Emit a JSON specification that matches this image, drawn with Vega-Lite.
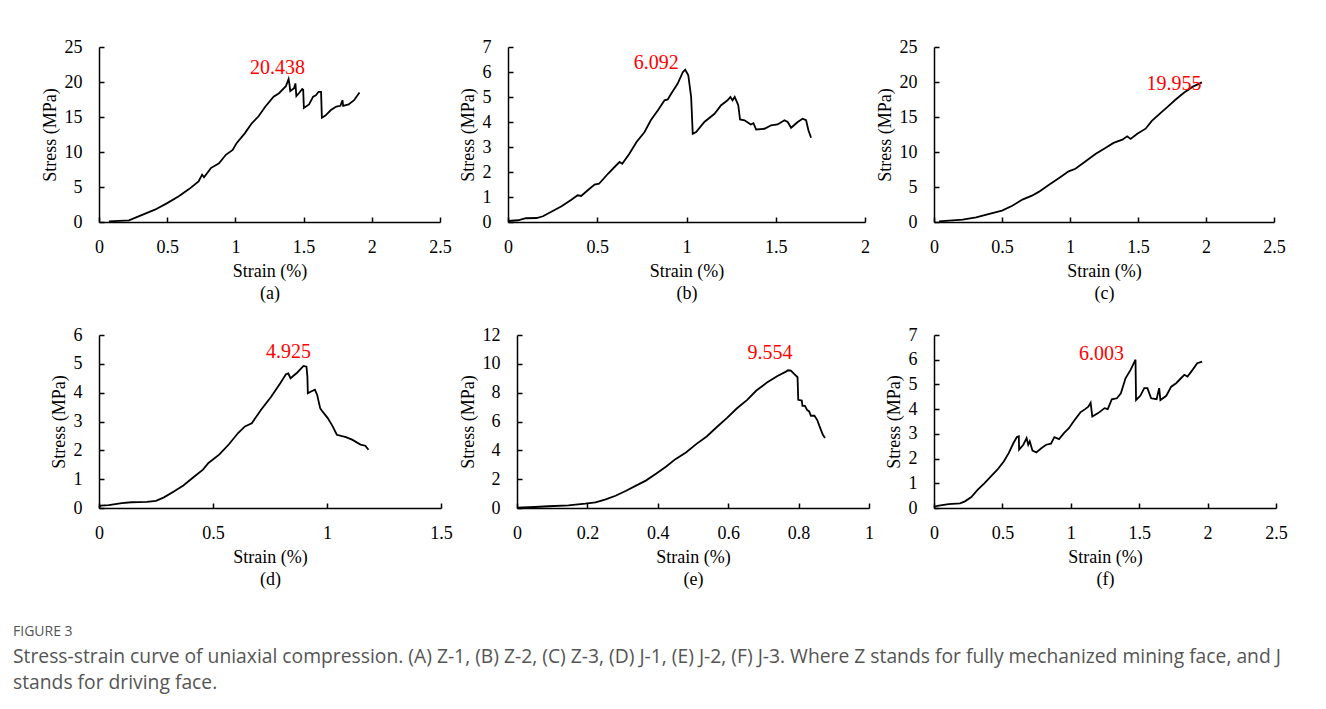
{
"$schema":"https://vega.github.io/schema/vega-lite/v6.json",
"background":"white",
"padding":{"left":13,"top":38,"right":5,"bottom":5},
"config":{"view":{"stroke":null},"font":"Liberation Serif",
"axis":{"grid":false,"domainColor":"#000","domainWidth":1.5,"tickColor":"#000","tickWidth":1.5,"tickSize":-5,"labelFont":"Liberation Serif","labelFontSize":18,"labelColor":"#000","titleFont":"Liberation Serif","titleFontSize":18,"titleFontWeight":"normal","titleColor":"#000","labelFlush":false,"labelOverlap":false,"format":"~g"},
"axisX":{"labelPadding":21,"titlePadding":6,"titleLineHeight":22},
"axisY":{"labelPadding":22,"titlePadding":5}},
"title":{"text":"FIGURE 3","orient":"bottom","anchor":"start","dx":-28,"offset":37,"font":"Open Sans","fontSize":14,"fontWeight":"normal","color":"#555","subtitle":["Stress-strain curve of uniaxial compression. (A) Z-1, (B) Z-2, (C) Z-3, (D) J-1, (E) J-2, (F) J-3. Where Z stands for fully mechanized mining face, and J","stands for driving face."],"subtitleFont":"Open Sans","subtitleFontSize":19.3,"subtitleLineHeight":26,"subtitleColor":"#555","subtitlePadding":9},
"datasets":{
"a":[{"strain":0.073,"stress":0.1},{"strain":0.22,"stress":0.24},{"strain":0.29,"stress":0.8},{"strain":0.41,"stress":1.76},{"strain":0.5,"stress":2.7},{"strain":0.585,"stress":3.67},{"strain":0.66,"stress":4.7},{"strain":0.73,"stress":5.8},{"strain":0.756,"stress":6.76},{"strain":0.77,"stress":6.4},{"strain":0.82,"stress":7.7},{"strain":0.88,"stress":8.4},{"strain":0.93,"stress":9.6},{"strain":0.98,"stress":10.3},{"strain":1.01,"stress":11.3},{"strain":1.07,"stress":12.7},{"strain":1.12,"stress":14.1},{"strain":1.17,"stress":15.1},{"strain":1.22,"stress":16.5},{"strain":1.28,"stress":17.9},{"strain":1.32,"stress":18.4},{"strain":1.37,"stress":19.4},{"strain":1.39,"stress":20.438},{"strain":1.397,"stress":19.6},{"strain":1.402,"stress":18.7},{"strain":1.43,"stress":19.1},{"strain":1.44,"stress":19.8},{"strain":1.447,"stress":18.0},{"strain":1.47,"stress":18.5},{"strain":1.49,"stress":19.0},{"strain":1.497,"stress":18.9},{"strain":1.502,"stress":16.3},{"strain":1.54,"stress":16.8},{"strain":1.57,"stress":17.9},{"strain":1.59,"stress":18.1},{"strain":1.61,"stress":18.6},{"strain":1.628,"stress":18.6},{"strain":1.634,"stress":14.9},{"strain":1.66,"stress":15.2},{"strain":1.7,"stress":16.0},{"strain":1.74,"stress":16.5},{"strain":1.77,"stress":16.6},{"strain":1.785,"stress":17.4},{"strain":1.79,"stress":16.6},{"strain":1.83,"stress":16.8},{"strain":1.87,"stress":17.4},{"strain":1.91,"stress":18.5}],
"b":[{"strain":0,"stress":0.04},{"strain":0.056,"stress":0.07},{"strain":0.1,"stress":0.15},{"strain":0.16,"stress":0.16},{"strain":0.196,"stress":0.23},{"strain":0.24,"stress":0.4},{"strain":0.3,"stress":0.63},{"strain":0.355,"stress":0.89},{"strain":0.39,"stress":1.07},{"strain":0.41,"stress":1.04},{"strain":0.45,"stress":1.29},{"strain":0.485,"stress":1.5},{"strain":0.51,"stress":1.53},{"strain":0.56,"stress":1.93},{"strain":0.597,"stress":2.2},{"strain":0.625,"stress":2.4},{"strain":0.64,"stress":2.33},{"strain":0.68,"stress":2.73},{"strain":0.72,"stress":3.2},{"strain":0.765,"stress":3.6},{"strain":0.8,"stress":4.07},{"strain":0.84,"stress":4.47},{"strain":0.877,"stress":4.87},{"strain":0.895,"stress":4.9},{"strain":0.914,"stress":5.13},{"strain":0.95,"stress":5.53},{"strain":0.98,"stress":6.0},{"strain":0.993,"stress":6.092},{"strain":1.01,"stress":5.87},{"strain":1.026,"stress":5.0},{"strain":1.035,"stress":3.53},{"strain":1.054,"stress":3.6},{"strain":1.1,"stress":4.0},{"strain":1.157,"stress":4.33},{"strain":1.194,"stress":4.67},{"strain":1.23,"stress":4.87},{"strain":1.246,"stress":5.0},{"strain":1.258,"stress":4.87},{"strain":1.27,"stress":5.0},{"strain":1.29,"stress":4.67},{"strain":1.3,"stress":4.1},{"strain":1.325,"stress":4.07},{"strain":1.36,"stress":3.9},{"strain":1.375,"stress":3.95},{"strain":1.39,"stress":3.7},{"strain":1.437,"stress":3.73},{"strain":1.474,"stress":3.87},{"strain":1.51,"stress":3.9},{"strain":1.549,"stress":4.07},{"strain":1.567,"stress":4.0},{"strain":1.586,"stress":3.77},{"strain":1.623,"stress":4.0},{"strain":1.65,"stress":4.13},{"strain":1.67,"stress":4.07},{"strain":1.683,"stress":3.67},{"strain":1.698,"stress":3.37}],
"c":[{"strain":0.037,"stress":0.1},{"strain":0.21,"stress":0.33},{"strain":0.31,"stress":0.67},{"strain":0.4,"stress":1.14},{"strain":0.5,"stress":1.62},{"strain":0.576,"stress":2.33},{"strain":0.65,"stress":3.2},{"strain":0.72,"stress":3.76},{"strain":0.77,"stress":4.3},{"strain":0.846,"stress":5.33},{"strain":0.92,"stress":6.3},{"strain":0.99,"stress":7.24},{"strain":1.04,"stress":7.6},{"strain":1.115,"stress":8.67},{"strain":1.19,"stress":9.76},{"strain":1.26,"stress":10.57},{"strain":1.32,"stress":11.3},{"strain":1.385,"stress":11.76},{"strain":1.42,"stress":12.24},{"strain":1.446,"stress":11.86},{"strain":1.495,"stress":12.6},{"strain":1.556,"stress":13.33},{"strain":1.6,"stress":14.4},{"strain":1.667,"stress":15.6},{"strain":1.715,"stress":16.4},{"strain":1.777,"stress":17.5},{"strain":1.84,"stress":18.5},{"strain":1.9,"stress":19.3},{"strain":1.97,"stress":19.955}],
"d":[{"strain":0,"stress":0.02},{"strain":0.007,"stress":0.08},{"strain":0.043,"stress":0.1},{"strain":0.1,"stress":0.17},{"strain":0.142,"stress":0.2},{"strain":0.21,"stress":0.21},{"strain":0.25,"stress":0.25},{"strain":0.285,"stress":0.37},{"strain":0.33,"stress":0.58},{"strain":0.37,"stress":0.78},{"strain":0.41,"stress":1.04},{"strain":0.456,"stress":1.33},{"strain":0.48,"stress":1.56},{"strain":0.527,"stress":1.85},{"strain":0.57,"stress":2.21},{"strain":0.61,"stress":2.6},{"strain":0.64,"stress":2.83},{"strain":0.67,"stress":2.94},{"strain":0.71,"stress":3.4},{"strain":0.755,"stress":3.86},{"strain":0.795,"stress":4.33},{"strain":0.82,"stress":4.64},{"strain":0.83,"stress":4.67},{"strain":0.84,"stress":4.5},{"strain":0.87,"stress":4.7},{"strain":0.897,"stress":4.925},{"strain":0.91,"stress":4.9},{"strain":0.914,"stress":4.56},{"strain":0.916,"stress":3.98},{"strain":0.93,"stress":4.04},{"strain":0.947,"stress":4.1},{"strain":0.957,"stress":3.92},{"strain":0.97,"stress":3.46},{"strain":0.98,"stress":3.35},{"strain":1.004,"stress":3.11},{"strain":1.025,"stress":2.83},{"strain":1.043,"stress":2.54},{"strain":1.083,"stress":2.46},{"strain":1.11,"stress":2.37},{"strain":1.147,"stress":2.2},{"strain":1.168,"stress":2.16},{"strain":1.182,"stress":2.02}],
"e":[{"strain":0,"stress":0.02},{"strain":0.05,"stress":0.07},{"strain":0.089,"stress":0.12},{"strain":0.146,"stress":0.18},{"strain":0.194,"stress":0.3},{"strain":0.223,"stress":0.39},{"strain":0.25,"stress":0.58},{"strain":0.28,"stress":0.85},{"strain":0.31,"stress":1.2},{"strain":0.338,"stress":1.55},{"strain":0.366,"stress":1.9},{"strain":0.395,"stress":2.38},{"strain":0.424,"stress":2.88},{"strain":0.45,"stress":3.39},{"strain":0.48,"stress":3.85},{"strain":0.51,"stress":4.45},{"strain":0.539,"stress":4.96},{"strain":0.567,"stress":5.6},{"strain":0.596,"stress":6.23},{"strain":0.625,"stress":6.92},{"strain":0.654,"stress":7.5},{"strain":0.68,"stress":8.15},{"strain":0.71,"stress":8.7},{"strain":0.74,"stress":9.16},{"strain":0.764,"stress":9.46},{"strain":0.77,"stress":9.554},{"strain":0.778,"stress":9.53},{"strain":0.788,"stress":9.28},{"strain":0.797,"stress":9.07},{"strain":0.799,"stress":7.5},{"strain":0.809,"stress":7.45},{"strain":0.811,"stress":7.08},{"strain":0.818,"stress":7.08},{"strain":0.824,"stress":6.8},{"strain":0.83,"stress":6.7},{"strain":0.835,"stress":6.4},{"strain":0.845,"stress":6.4},{"strain":0.853,"stress":6.1},{"strain":0.859,"stress":5.7},{"strain":0.869,"stress":5.08},{"strain":0.875,"stress":4.85}],
"f":[{"strain":0,"stress":0.03},{"strain":0.024,"stress":0.09},{"strain":0.107,"stress":0.16},{"strain":0.19,"stress":0.19},{"strain":0.226,"stress":0.27},{"strain":0.273,"stress":0.44},{"strain":0.32,"stress":0.74},{"strain":0.368,"stress":1.0},{"strain":0.416,"stress":1.28},{"strain":0.463,"stress":1.55},{"strain":0.51,"stress":1.88},{"strain":0.546,"stress":2.22},{"strain":0.58,"stress":2.62},{"strain":0.606,"stress":2.87},{"strain":0.62,"stress":2.9},{"strain":0.622,"stress":2.36},{"strain":0.653,"stress":2.56},{"strain":0.677,"stress":2.83},{"strain":0.689,"stress":2.56},{"strain":0.7,"stress":2.7},{"strain":0.72,"stress":2.32},{"strain":0.748,"stress":2.25},{"strain":0.784,"stress":2.42},{"strain":0.82,"stress":2.56},{"strain":0.855,"stress":2.6},{"strain":0.88,"stress":2.87},{"strain":0.914,"stress":2.79},{"strain":0.95,"stress":3.03},{"strain":0.986,"stress":3.23},{"strain":1.02,"stress":3.5},{"strain":1.07,"stress":3.87},{"strain":1.105,"stress":4.0},{"strain":1.128,"stress":4.1},{"strain":1.145,"stress":4.26},{"strain":1.157,"stress":3.7},{"strain":1.2,"stress":3.84},{"strain":1.247,"stress":4.04},{"strain":1.27,"stress":4.0},{"strain":1.3,"stress":4.4},{"strain":1.337,"stress":4.44},{"strain":1.366,"stress":4.64},{"strain":1.4,"stress":5.25},{"strain":1.437,"stress":5.59},{"strain":1.473,"stress":6.003},{"strain":1.477,"stress":4.37},{"strain":1.508,"stress":4.54},{"strain":1.537,"stress":4.85},{"strain":1.56,"stress":4.85},{"strain":1.587,"stress":4.44},{"strain":1.627,"stress":4.4},{"strain":1.646,"stress":4.85},{"strain":1.655,"stress":4.37},{"strain":1.698,"stress":4.54},{"strain":1.734,"stress":4.91},{"strain":1.77,"stress":5.05},{"strain":1.805,"stress":5.25},{"strain":1.83,"stress":5.39},{"strain":1.853,"stress":5.32},{"strain":1.89,"stress":5.59},{"strain":1.924,"stress":5.86},{"strain":1.96,"stress":5.92}],
"peaks":[{"panel":"a","strain":1.39,"stress":20.438},{"panel":"b","strain":0.993,"stress":6.092},{"panel":"c","strain":1.97,"stress":19.955},{"panel":"d","strain":0.897,"stress":4.925},{"panel":"e","strain":0.77,"stress":9.554},{"panel":"f","strain":1.473,"stress":6.003}]
},
"columns":3,
"align":"none",
"spacing":{"row":24,"column":6},
"concat":[
{"width":341,"height":175,
"encoding":{"x":{"field":"strain","type":"quantitative","scale":{"domain":[0,2.5]},"axis":{"values":[0,0.5,1,1.5,2,2.5],"title":["Strain (%)","(a)"]}},"y":{"field":"stress","type":"quantitative","scale":{"domain":[0,25]},"axis":{"values":[0,5,10,15,20,25],"title":"Stress (MPa)"}}},
"layer":[
{"data":{"name":"a"},"mark":{"type":"line","color":"#000","strokeWidth":1.8}},
{"data":{"name":"peaks"},"transform":[{"filter":"datum.panel === 'a'"}],"mark":{"type":"text","color":"#ff0000","font":"Liberation Serif","fontSize":20,"dx":-11,"dy":-11},"encoding":{"text":{"field":"stress","type":"quantitative","format":".3f"}}}]},
{"width":357,"height":175,
"encoding":{"x":{"field":"strain","type":"quantitative","scale":{"domain":[0,2]},"axis":{"values":[0,0.5,1,1.5,2],"title":["Strain (%)","(b)"]}},"y":{"field":"stress","type":"quantitative","scale":{"domain":[0,7]},"axis":{"values":[0,1,2,3,4,5,6,7],"title":"Stress (MPa)"}}},
"layer":[
{"data":{"name":"b"},"mark":{"type":"line","color":"#000","strokeWidth":1.8}},
{"data":{"name":"peaks"},"transform":[{"filter":"datum.panel === 'b'"}],"mark":{"type":"text","color":"#ff0000","font":"Liberation Serif","fontSize":20,"dx":-29,"dy":-7},"encoding":{"text":{"field":"stress","type":"quantitative","format":".3f"}}}]},
{"width":340,"height":175,
"encoding":{"x":{"field":"strain","type":"quantitative","scale":{"domain":[0,2.5]},"axis":{"values":[0,0.5,1,1.5,2,2.5],"title":["Strain (%)","(c)"]}},"y":{"field":"stress","type":"quantitative","scale":{"domain":[0,25]},"axis":{"values":[0,5,10,15,20,25],"title":"Stress (MPa)"}}},
"layer":[
{"data":{"name":"c"},"mark":{"type":"line","color":"#000","strokeWidth":1.8}},
{"data":{"name":"peaks"},"transform":[{"filter":"datum.panel === 'c'"}],"mark":{"type":"text","color":"#ff0000","font":"Liberation Serif","fontSize":20,"dx":-28,"dy":2},"encoding":{"text":{"field":"stress","type":"quantitative","format":".3f"}}}]},
{"width":342,"height":173,
"encoding":{"x":{"field":"strain","type":"quantitative","scale":{"domain":[0,1.5]},"axis":{"values":[0,0.5,1,1.5],"title":["Strain (%)","(d)"]}},"y":{"field":"stress","type":"quantitative","scale":{"domain":[0,6]},"axis":{"values":[0,1,2,3,4,5,6],"title":"Stress (MPa)"}}},
"layer":[
{"data":{"name":"d"},"mark":{"type":"line","color":"#000","strokeWidth":1.8}},
{"data":{"name":"peaks"},"transform":[{"filter":"datum.panel === 'd'"}],"mark":{"type":"text","color":"#ff0000","font":"Liberation Serif","fontSize":20,"dx":-15,"dy":-14},"encoding":{"text":{"field":"stress","type":"quantitative","format":".3f"}}}]},
{"width":352,"height":173,
"encoding":{"x":{"field":"strain","type":"quantitative","scale":{"domain":[0,1]},"axis":{"values":[0,0.2,0.4,0.6,0.8,1],"title":["Strain (%)","(e)"]}},"y":{"field":"stress","type":"quantitative","scale":{"domain":[0,12]},"axis":{"values":[0,2,4,6,8,10,12],"title":"Stress (MPa)"}}},
"layer":[
{"data":{"name":"e"},"mark":{"type":"line","color":"#000","strokeWidth":1.8}},
{"data":{"name":"peaks"},"transform":[{"filter":"datum.panel === 'e'"}],"mark":{"type":"text","color":"#ff0000","font":"Liberation Serif","fontSize":20,"dx":-18,"dy":-17},"encoding":{"text":{"field":"stress","type":"quantitative","format":".3f"}}}]},
{"width":342,"height":173,
"encoding":{"x":{"field":"strain","type":"quantitative","scale":{"domain":[0,2.5]},"axis":{"values":[0,0.5,1,1.5,2,2.5],"title":["Strain (%)","(f)"]}},"y":{"field":"stress","type":"quantitative","scale":{"domain":[0,7]},"axis":{"values":[0,1,2,3,4,5,6,7],"title":"Stress (MPa)"}}},
"layer":[
{"data":{"name":"f"},"mark":{"type":"line","color":"#000","strokeWidth":1.8}},
{"data":{"name":"peaks"},"transform":[{"filter":"datum.panel === 'f'"}],"mark":{"type":"text","color":"#ff0000","font":"Liberation Serif","fontSize":20,"dx":-34,"dy":-6},"encoding":{"text":{"field":"stress","type":"quantitative","format":".3f"}}}]}
]
}
